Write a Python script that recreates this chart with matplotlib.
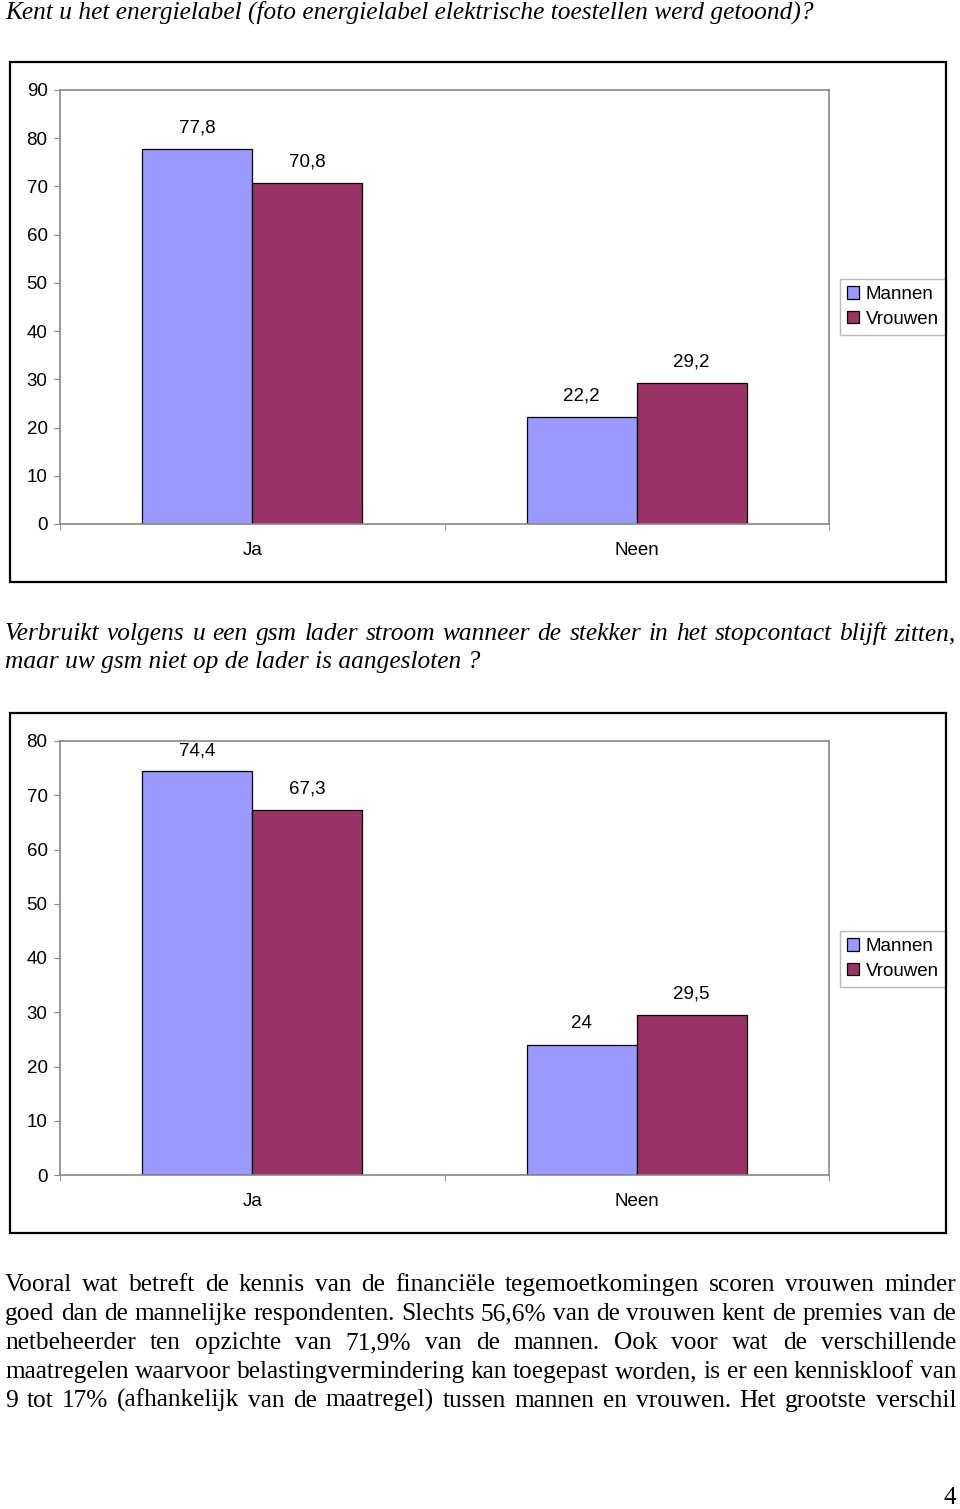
import matplotlib
matplotlib.use("Agg")
import matplotlib.pyplot as plt
import matplotlib.patches as mpatches
import numpy as np

plt.rcParams["font.family"] = ["Liberation Sans", "DejaVu Sans"]

# data
categories = ["Ja", "Neen"]
series_names = ["Mannen", "Vrouwen"]

q1_title = "Kent u het energielabel (foto energielabel elektrische toestellen werd getoond)?"
q1_mannen = [77.8, 22.2]
q1_vrouwen = [70.8, 29.2]
q1_labels_m = ["77,8", "22,2"]
q1_labels_v = ["70,8", "29,2"]

q2_title_lines = ["Verbruikt volgens u een gsm lader stroom wanneer de stekker in het stopcontact blijft zitten,",
                  "maar uw gsm niet op de lader is aangesloten ?"]
q2_mannen = [74.4, 24.0]
q2_vrouwen = [67.3, 29.5]
q2_labels_m = ["74,4", "24"]
q2_labels_v = ["67,3", "29,5"]

body_lines = [
    "Vooral wat betreft de kennis van de financiële tegemoetkomingen scoren vrouwen minder",
    "goed dan de mannelijke respondenten.  Slechts 56,6% van de vrouwen kent de premies van de",
    "netbeheerder ten opzichte van 71,9% van de mannen.  Ook voor wat de verschillende",
    "maatregelen waarvoor belastingvermindering kan toegepast worden, is er een kenniskloof van",
    "9 tot 17% (afhankelijk van de maatregel) tussen mannen en vrouwen.  Het grootste verschil",
]

COL_M = "#9999FF"
COL_V = "#993366"
GRID = "#888888"
W, H = 960, 1509
FS = 13.5

fig = plt.figure(figsize=(W / 100, H / 100), dpi=100)
renderer = fig.canvas.get_renderer()


def fx(px):
    return px / W


def fy(py):
    return 1 - py / H


def justified(line, x0, x1, y, **kw):
    # y is the baseline in pixels from the top
    words = line.split()
    texts = [fig.text(0, fy(y), w, va="baseline", ha="left", **kw) for w in words]
    widths = [t.get_window_extent(renderer).width for t in texts]
    gap = (x1 - x0 - sum(widths)) / max(len(words) - 1, 1)
    x = x0
    for t, wd in zip(texts, widths):
        t.set_x(fx(x))
        x += wd + gap


def draw_chart(top, bottom, ymax, mannen, vrouwen, lab_m, lab_v, legend_y):
    # outer frame
    fig.patches.append(mpatches.Rectangle((fx(10), fy(bottom + 58)), fx(936), (bottom + 58 - top) / H,
                                          transform=fig.transFigure, fill=False,
                                          edgecolor="black", linewidth=1.6))
    ax = fig.add_axes([fx(60), fy(bottom), fx(769), (bottom - top - 28) / H])
    x = np.arange(len(categories))
    w = 0.286
    ax.bar(x - w / 2, mannen, w, color=COL_M, edgecolor="black", linewidth=0.9, label=series_names[0])
    ax.bar(x + w / 2, vrouwen, w, color=COL_V, edgecolor="black", linewidth=0.9, label=series_names[1])
    for xi, v, s in zip(x - w / 2, mannen, lab_m):
        ax.annotate(s, (xi, v), xytext=(0, 15), textcoords="offset points", ha="center", va="center", fontsize=FS)
    for xi, v, s in zip(x + w / 2, vrouwen, lab_v):
        ax.annotate(s, (xi, v), xytext=(0, 15), textcoords="offset points", ha="center", va="center", fontsize=FS)
    ax.set_xlim(-0.5, 1.5)
    ax.set_ylim(0, ymax)
    ax.set_yticks(np.arange(0, ymax + 1, 10))
    ax.set_xticks(x)
    ax.set_xticklabels(categories)
    ax.set_xticks([-0.5, 0.5, 1.5], minor=True)
    ax.tick_params(axis="x", which="major", length=0, pad=13, labelsize=FS)
    ax.tick_params(axis="x", which="minor", length=4, color=GRID, direction="out")
    ax.tick_params(axis="y", length=4, color=GRID, pad=5, labelsize=FS)
    for sp in ax.spines.values():
        sp.set_color(GRID)
        sp.set_linewidth(1.2)
    ax.legend(loc="center", bbox_to_anchor=(fx(893), fy(legend_y)), bbox_transform=fig.transFigure,
              fontsize=FS, fancybox=False, edgecolor="#BBBBBB", framealpha=1,
              handlelength=0.65, handleheight=0.65, handletextpad=0.35, labelspacing=0.4,
              borderpad=0.4, borderaxespad=0)
    return ax


title_kw = dict(family="Liberation Serif", style="italic", fontsize=18.3)
fig.text(fx(5), fy(19), q1_title, va="baseline", ha="left", **title_kw)
draw_chart(62, 524, 90, q1_mannen, q1_vrouwen, q1_labels_m, q1_labels_v, 307)

justified(q2_title_lines[0], 5, 956, 640, **title_kw)
fig.text(fx(5), fy(668), q2_title_lines[1], va="baseline", ha="left", **title_kw)
draw_chart(713, 1175, 80, q2_mannen, q2_vrouwen, q2_labels_m, q2_labels_v, 959)

body_kw = dict(family="Liberation Serif", fontsize=18.3)
for i, line in enumerate(body_lines):
    justified(line, 5, 956, 1291 + i * 29, **body_kw)

fig.text(fx(944), fy(1504), "4", va="baseline", ha="left", **body_kw)

fig.savefig("out.png", dpi=100)
